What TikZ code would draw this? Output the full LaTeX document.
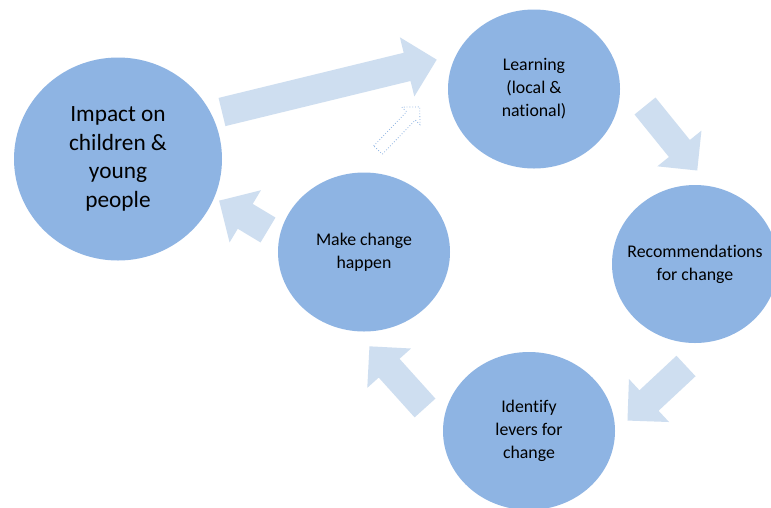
\documentclass[tikz,border=0pt]{standalone}
\usepackage{fontspec}
\setmainfont{Carlito}[Ligatures=NoCommon]
\usepackage{tikz}
\usetikzlibrary{shapes.geometric}
\definecolor{bubblefill}{RGB}{142,180,227}
\definecolor{arrowfill}{RGB}{206,222,240}
% block arrow: [style] {tail} {angle} {length} {shaft half width}
\newcommand{\blockarrow}[5][arrowbody]{%
  \path[#1,shift={#2},rotate=#3]
    (0,-#5) -- ({#4-2.1*#5},-#5) -- ({#4-2.1*#5},-2.1*#5) -- (#4,0)
    -- ({#4-2.1*#5},2.1*#5) -- ({#4-2.1*#5},#5) -- (0,#5) -- cycle;}
\tikzset{
  x=1pt,y=-1pt,
  bubbletext/.style={align=center,font=\fontsize{17.8}{23}\selectfont,inner sep=0},
  bigtext/.style={bubbletext,font=\fontsize{23.3}{28.5}\selectfont},
  bubble/.style={ellipse,fill=bubblefill,inner sep=0,label={[bubbletext]center:#1}},
  bigbubble/.style={ellipse,fill=bubblefill,inner sep=0,label={[bigtext]center:#1}},
  arrowbody/.style={fill=arrowfill},
  hintarrow/.style={draw=bubblefill,dotted,line width=0.8pt,fill=white}
}
\begin{document}
\begin{tikzpicture}
  \clip (0,0) rectangle (771,507);
  \fill[white] (0,0) rectangle (771,507);

  \node (impact) [bigbubble={Impact on\\children \&\\young\\people},minimum width=208,minimum height=203] at (118,159) {};
  \node (learn) [bubble={Learning\\(local \&\\national)},minimum width=172,minimum height=159] at (534,89) {};
  \node (recs) [bubble={Recommendations\\for change},minimum width=166,minimum height=158] at (695,264) {};
  \node (levers) [bubble={Identify\\levers for\\change},minimum width=172,minimum height=158] at (529,431) {};
  \node (make) [bubble={Make change\\happen},minimum width=172,minimum height=159] at (364,252) {};

  \blockarrow{(222,112)}{13.7}{221}{14.5}
  \blockarrow[hintarrow]{(378,150)}{46}{60}{6}
  \blockarrow{(645,106)}{-51}{83}{13.5}
  \blockarrow{(686,366)}{-137}{80}{14}
  \blockarrow{(425,408)}{132}{83}{14}
  \blockarrow{(268,230)}{149}{57}{14.5}
\end{tikzpicture}
\end{document}
